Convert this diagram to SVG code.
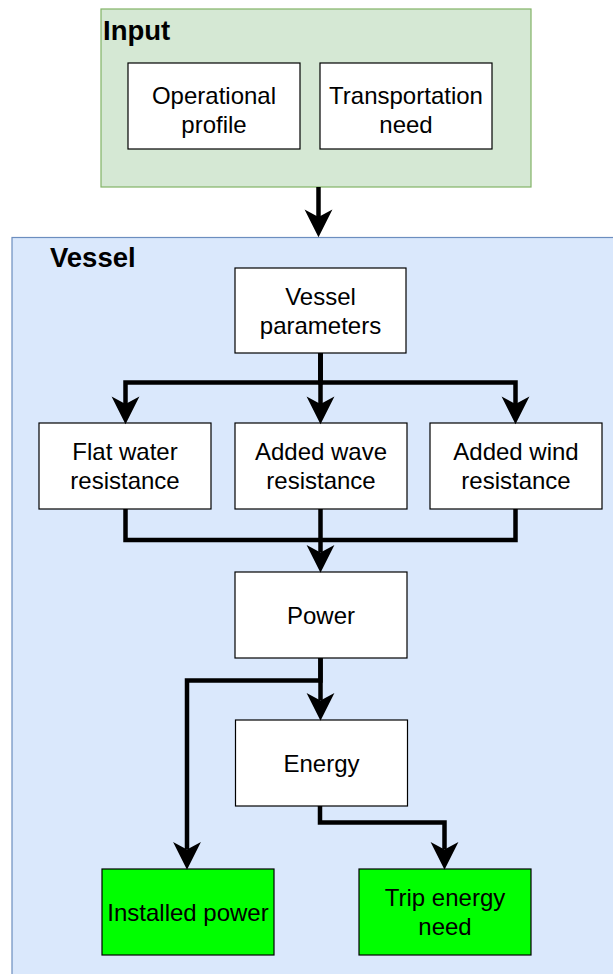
<svg xmlns="http://www.w3.org/2000/svg" width="613" height="974" viewBox="0 0 613 974">
<defs>
<style>
.box{fill:#ffffff;stroke:#000000;stroke-width:1.2}
.out{fill:#00ff00;stroke:#000000;stroke-width:1.2}
.t{font-family:"Liberation Sans",Arial,Helvetica,sans-serif;font-size:24px;fill:#000000;text-anchor:middle}
.lbl{font-family:"Liberation Sans",Arial,Helvetica,sans-serif;font-size:27.5px;font-weight:bold;fill:#000000}
.c{fill:none;stroke:#000000;stroke-width:4.5;stroke-linejoin:miter;stroke-linecap:butt;marker-end:url(#arr)}
.cn{fill:none;stroke:#000000;stroke-width:4.5;stroke-linejoin:miter;stroke-linecap:butt}
</style>
<marker id="arr" markerUnits="userSpaceOnUse" markerWidth="30" markerHeight="30" viewBox="-8 -14 28 28" refX="0" refY="0" orient="auto" overflow="visible">
<path d="M0,0 L-7,-13 L19,0 L-7,13 Z" fill="#000000"/>
</marker>
</defs>
<g id="input-container">
<rect x="101" y="9" width="430" height="178" fill="#d5e8d4" stroke="#82b366" stroke-width="1.2"/>
<text class="lbl" x="103" y="40">Input</text>
</g>
<g id="vessel-container">
<rect x="12" y="237.5" width="620" height="760" fill="#dae8fc" stroke="#6c8ebf" stroke-width="1.2"/>
<text class="lbl" x="50" y="267">Vessel</text>
</g>
<g id="operational-profile">
<rect class="box" x="128" y="63" width="172" height="86"/>
<text class="t" x="214" y="104">Operational</text>
<text class="t" x="214" y="133">profile</text>
</g>
<g id="transportation-need">
<rect class="box" x="320" y="63" width="172" height="86"/>
<text class="t" x="406" y="104">Transportation</text>
<text class="t" x="406" y="133">need</text>
</g>
<g id="vessel-parameters">
<rect class="box" x="235" y="268" width="171" height="85"/>
<text class="t" x="320.5" y="305">Vessel</text>
<text class="t" x="320.5" y="334">parameters</text>
</g>
<g id="flat-water-resistance">
<rect class="box" x="39" y="423" width="172" height="86"/>
<text class="t" x="125" y="460">Flat water</text>
<text class="t" x="125" y="489">resistance</text>
</g>
<g id="added-wave-resistance">
<rect class="box" x="235" y="423" width="172" height="86"/>
<text class="t" x="321" y="460">Added wave</text>
<text class="t" x="321" y="489">resistance</text>
</g>
<g id="added-wind-resistance">
<rect class="box" x="430" y="423" width="172" height="86"/>
<text class="t" x="516" y="460">Added wind</text>
<text class="t" x="516" y="489">resistance</text>
</g>
<g id="power">
<rect class="box" x="235" y="572" width="172" height="86"/>
<text class="t" x="321" y="623.5">Power</text>
</g>
<g id="energy">
<rect class="box" x="235.5" y="720" width="172" height="86"/>
<text class="t" x="321.5" y="771.5">Energy</text>
</g>
<g id="installed-power">
<rect class="out" x="102" y="869" width="172" height="86"/>
<text class="t" x="188" y="920.5">Installed power</text>
</g>
<g id="trip-energy-need">
<rect class="out" x="359" y="869" width="172" height="86"/>
<text class="t" x="445" y="906">Trip energy</text>
<text class="t" x="445" y="935">need</text>
</g>
<g id="connectors">
<path class="c" d="M318.5,187 V217"/>
<path class="c" d="M320.5,353 V382.5 H125.5 V404"/>
<path class="c" d="M320.5,353 V404"/>
<path class="c" d="M320.5,353 V382.5 H515.5 V404"/>
<path class="cn" d="M125.5,509 V540 H515.5 V509"/>
<path class="c" d="M320.5,509 V552.5"/>
<path class="c" d="M320.5,658 V700.5"/>
<path class="c" d="M320.5,658 V680.5 H187 V849.5"/>
<path class="c" d="M320,806 V822.5 H444.5 V849.5"/>
</g>
</svg>
